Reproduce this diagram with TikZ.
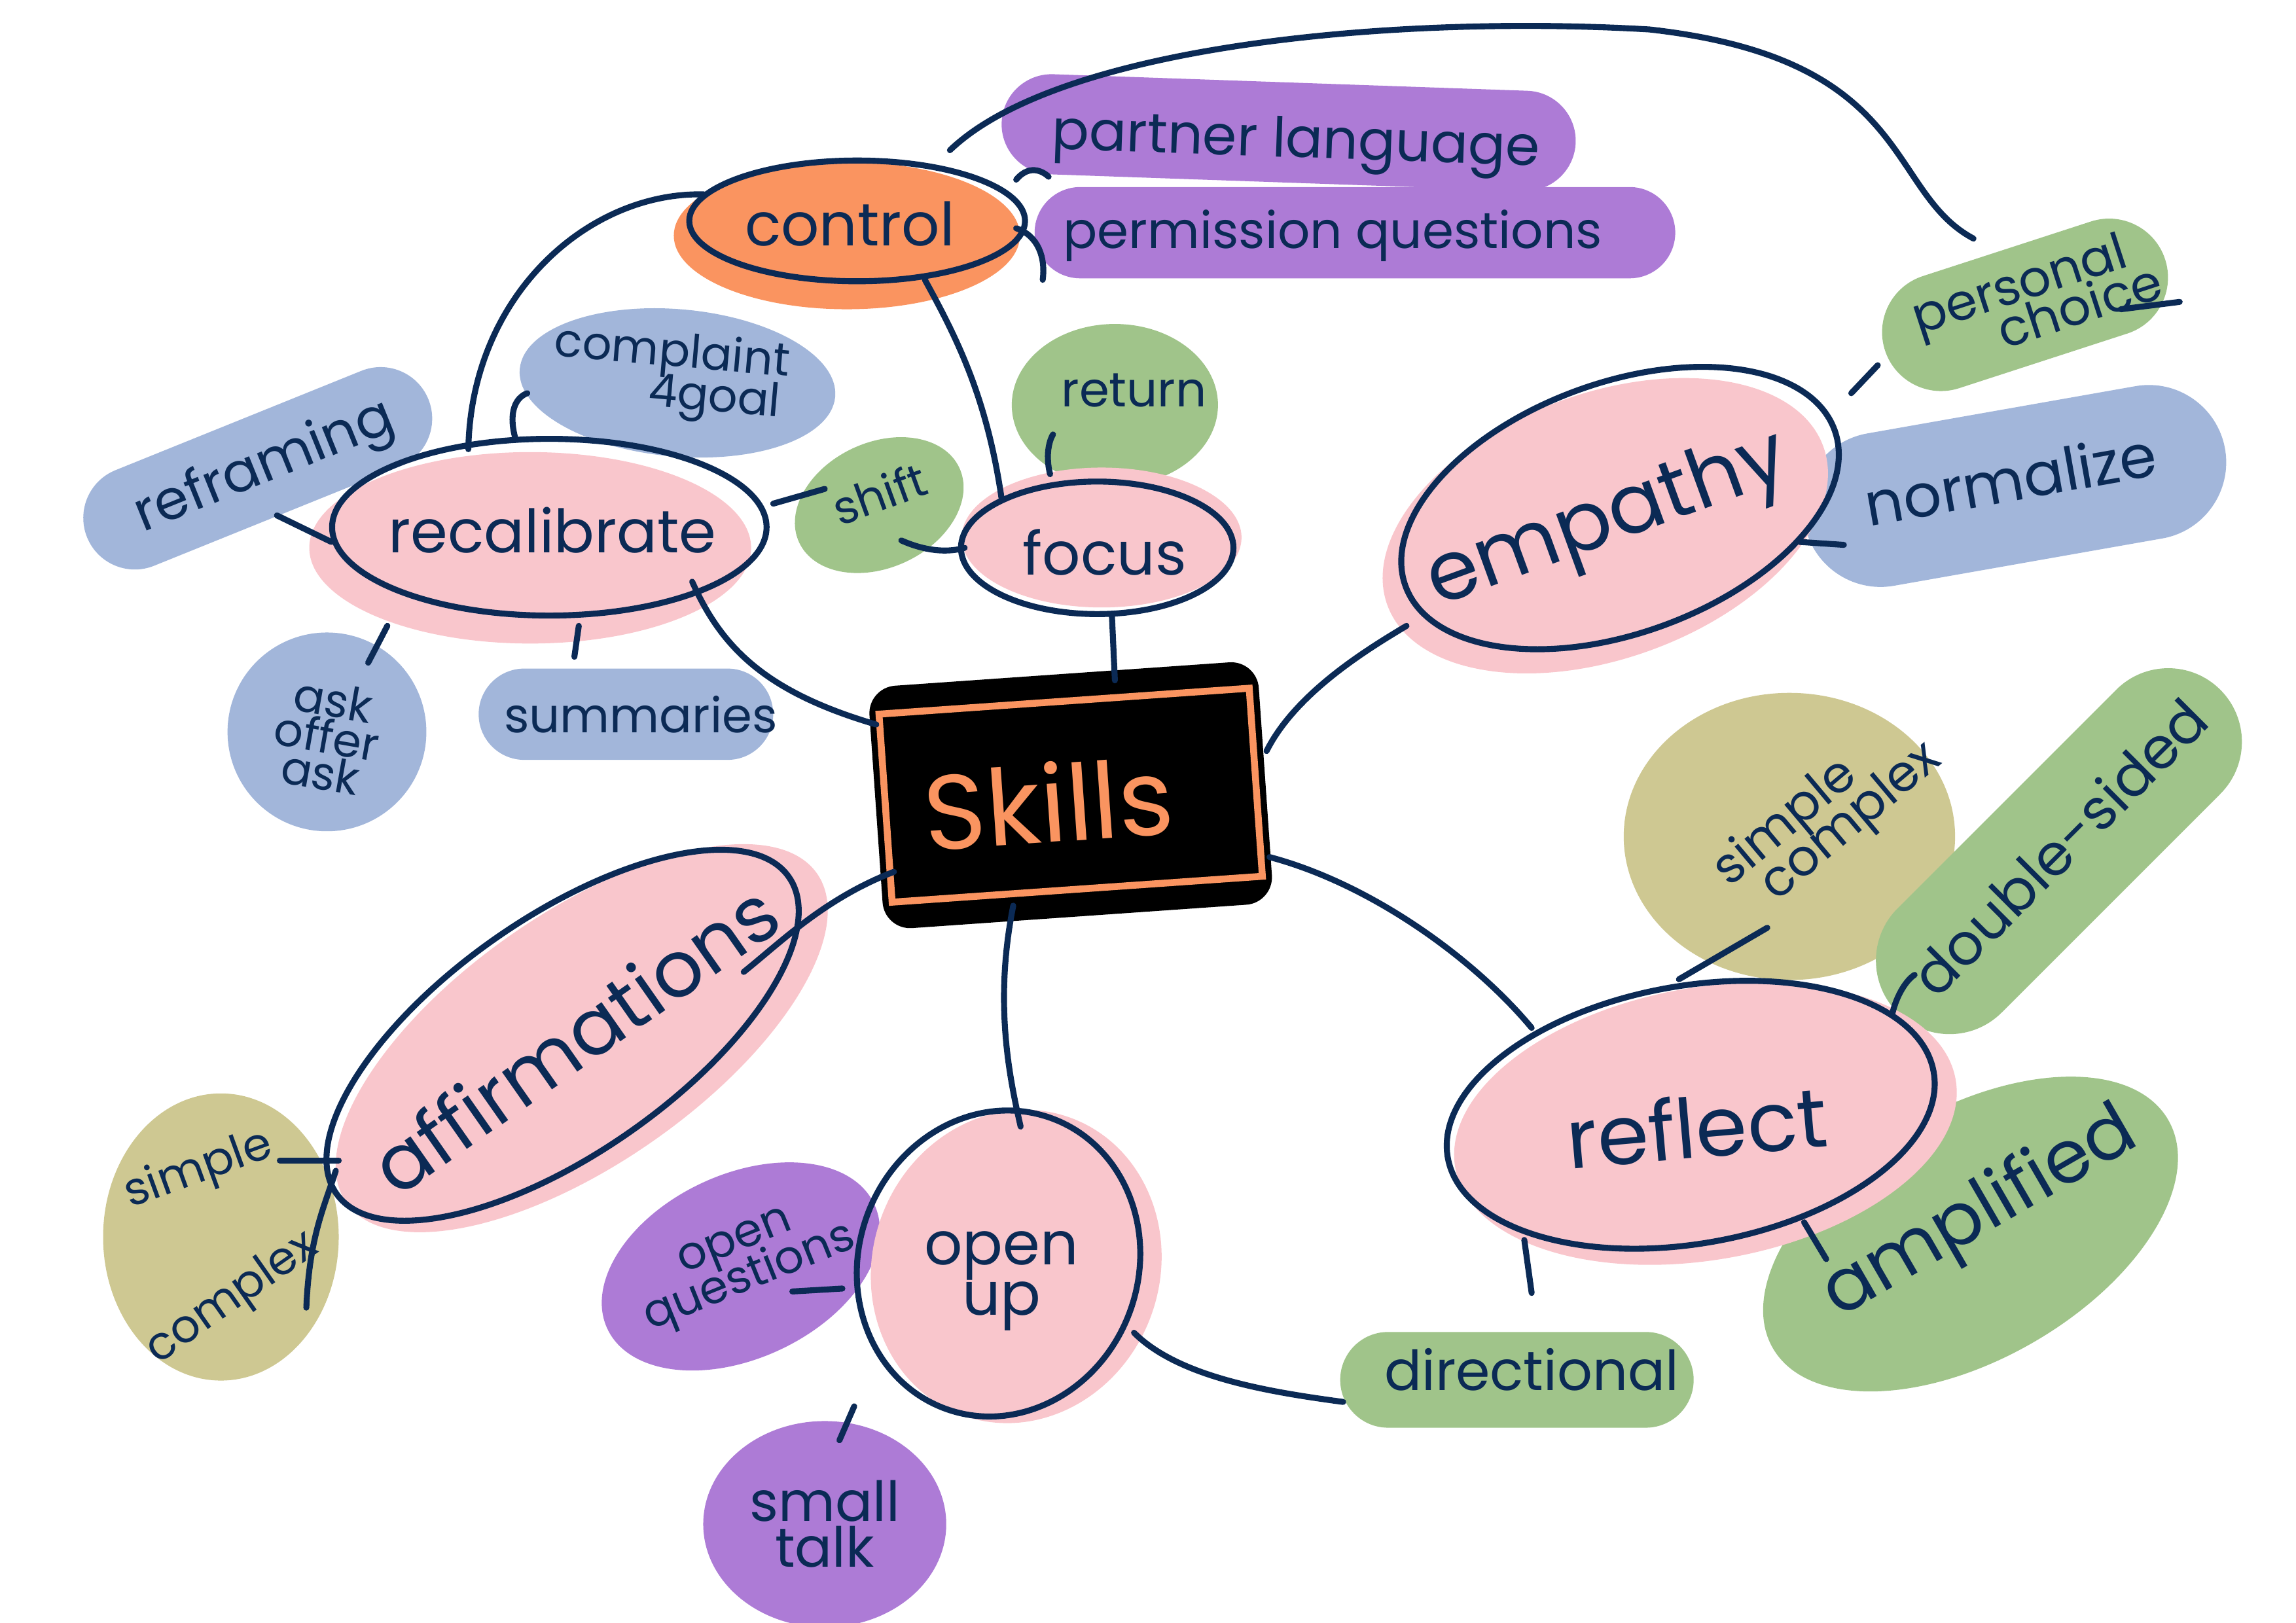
\documentclass[tikz,border=0pt]{standalone}
\usepackage{fontspec}
\setmainfont{Poppins}
\usetikzlibrary{shapes.geometric,shapes.misc}
\definecolor{navy}{HTML}{0B2A55}
\definecolor{pinkf}{HTML}{F9C6CC}
\definecolor{orangef}{HTML}{FA9460}
\definecolor{purplef}{HTML}{AD7BD6}
\definecolor{bluef}{HTML}{A2B6DA}
\definecolor{greenf}{HTML}{A0C48A}
\definecolor{olivef}{HTML}{CEC892}
\newdimen\U \U=0.0225cm
\tikzset{
  lbl/.style={text=navy,font=\fontsize{#1}{#1}\selectfont,align=center},
  lbl/.default=24,
  blob/.style={fill=#1,draw=none,ellipse,inner sep=0pt},
  pill/.style={fill=#1,draw=none,rounded rectangle,inner sep=0pt},
  ring/.style={draw=navy,line width=2.6pt,ellipse,inner sep=0pt},
  link/.style={draw=navy,line width=2.6pt,line cap=round},
}
\begin{document}
\begin{tikzpicture}[x=0.0225cm,y=-0.0225cm]
\useasboundingbox (0,0) rectangle (1559,1102);
% ---- blobs (fills) ----
\node[pill=purplef,minimum width=390\U,minimum height=68\U,rotate=-2] (partner) at (875,90) {};
\node[pill=purplef,minimum width=435\U,minimum height=62\U] (perm) at (920,158) {};
\node[blob=orangef,minimum width=235\U,minimum height=100\U] (ctrlf) at (575,160) {};
\node[blob=bluef,minimum width=215\U,minimum height=100\U,rotate=-5] (compl) at (460,260) {};
\node[pill=bluef,minimum width=250\U,minimum height=70\U,rotate=22] (refr) at (175,318) {};
\node[blob=bluef,minimum width=135\U,minimum height=135\U] (ask) at (222,497) {};
\node[pill=bluef,minimum width=200\U,minimum height=62\U] (summ) at (425,485) {};
\node[blob=greenf,minimum width=120\U,minimum height=85\U,rotate=25] (shift) at (597,343) {};
\node[blob=greenf,minimum width=140\U,minimum height=110\U] (ret) at (757,275) {};
\node[pill=greenf,minimum width=200\U,minimum height=80\U,rotate=18] (pers) at (1375,207) {};
\node[pill=bluef,minimum width=290\U,minimum height=105\U,rotate=10] (norm) at (1368,330) {};
\node[blob=olivef,minimum width=160\U,minimum height=195\U] (scl) at (150,840) {};
\node[blob=purplef,minimum width=200\U,minimum height=125\U,rotate=25] (oq) at (503,860) {};
\node[blob=purplef,minimum width=165\U,minimum height=140\U] (small) at (560,1035) {};
\node[pill=greenf,minimum width=240\U,minimum height=65\U] (dir) at (1030,937) {};
\node[blob=olivef,minimum width=225\U,minimum height=195\U] (scr) at (1215,568) {};
\node[pill=greenf,minimum width=310\U,minimum height=100\U,rotate=45] (dbl) at (1398,578) {};
\node[blob=greenf,minimum width=310\U,minimum height=170\U,rotate=30] (ampl) at (1338,838) {};
% pink shadows
\node[blob=pinkf,minimum width=300\U,minimum height=130\U] at (360,372) {};
\node[blob=pinkf,minimum width=190\U,minimum height=95\U] at (748,365) {};
\node[blob=pinkf,minimum width=315\U,minimum height=180\U,rotate=20] at (1090,357) {};
\node[blob=pinkf,minimum width=390\U,minimum height=170\U,rotate=35] at (395,705) {};
\node[blob=pinkf,minimum width=215\U,minimum height=195\U,rotate=70] at (690,860) {};
\node[blob=pinkf,minimum width=345\U,minimum height=185\U,rotate=10] at (1158,763) {};
% rings
\node[ring,minimum width=228\U,minimum height=82\U] (ctrl) at (582,150) {};
\node[ring,minimum width=295\U,minimum height=120\U] (rec) at (373,358) {};
\node[ring,minimum width=185\U,minimum height=90\U] (foc) at (745,372) {};
\node[ring,minimum width=310\U,minimum height=170\U,rotate=20] (emp) at (1100,345) {};
\node[ring,minimum width=375\U,minimum height=160\U,rotate=35] (aff) at (382,703) {};
\node[ring,minimum width=210\U,minimum height=190\U,rotate=70] (open) at (678,858) {};
\node[ring,minimum width=335\U,minimum height=175\U,rotate=10] (refl) at (1148,757) {};
% skills
\node[fill=black,rounded corners=12pt,minimum width=265\U,minimum height=165\U,rotate=4] (sk) at (727,540) {};
\node[draw=orangef,line width=3pt,minimum width=252\U,minimum height=128\U,rotate=4] (skin) at (727,540) {};
\node[text=orangef,font=\fontsize{46}{46}\selectfont,rotate=4] at (712,545) {Skills};
% ---- connectors ----
\draw[link] (595,492) .. controls (520,470) and (490,440) .. (470,395);
\draw[link] (757,462) -- (755,418);
\draw[link] (860,510) .. controls (880,470) and (930,440) .. (955,425);
\draw[link] (607,592) .. controls (560,610) and (530,640) .. (505,660);
\draw[link] (688,615) .. controls (675,680) and (685,730) .. (693,765);
\draw[link] (862,582) .. controls (930,600) and (1000,650) .. (1040,698);
\draw[link] (318,305) .. controls (320,200) and (400,130) .. (478,132);
\draw[link] (628,190) .. controls (650,230) and (670,270) .. (680,338);
\draw[link] (690,122) .. controls (700,110) and (710,118) .. (712,120);
\draw[link] (690,155) .. controls (705,160) and (710,175) .. (708,190);
\draw[link] (645,102) .. controls (720,30) and (950,10) .. (1120,20) .. controls (1300,40) and (1280,130) .. (1340,162);
\draw[link] (188,350) -- (225,368);
\draw[link] (263,425) -- (250,450);
\draw[link] (393,425) -- (390,446);
\draw[link] (350,298) .. controls (345,280) and (350,270) .. (358,267);
\draw[link] (525,342) -- (560,332);
\draw[link] (612,367) .. controls (630,375) and (645,375) .. (655,372);
\draw[link] (713,322) .. controls (710,310) and (712,300) .. (715,295);
\draw[link] (1257,267) -- (1275,248);
\draw[link] (1222,368) -- (1252,370);
\draw[link] (190,788) -- (230,788);
\draw[link] (228,795) .. controls (220,820) and (210,840) .. (208,888);
\draw[link] (538,877) -- (572,875);
\draw[link] (580,955) -- (570,978);
\draw[link] (770,905) .. controls (800,935) and (860,945) .. (912,952);
\draw[link] (1035,842) -- (1040,878);
\draw[link] (1140,665) -- (1200,630);
\draw[link] (1285,688) .. controls (1288,675) and (1295,665) .. (1300,662);
\draw[link] (1225,830) -- (1240,855);
\draw[link] (1480,205) -- (1440,210);
% ---- labels ----
\node[lbl=26] at (577,152) {control};
\node[lbl=24,rotate=-2] at (880,98) {partner language};
\node[lbl=22] at (905,160) {permission questions};
\node[lbl=26] at (375,360) {recalibrate};
\node[lbl=20,rotate=-5] at (455,255) {complaint\\[-2pt]\hspace*{2em}4goal};
\node[lbl=24,rotate=22] at (180,318) {reframing};
\node[lbl=20,rotate=-10] at (222,500) {ask\\[-4pt]offer\\[-4pt]ask};
\node[lbl=21] at (435,485) {summaries};
\node[lbl=20,rotate=20] at (597,335) {shift};
\node[lbl=21] at (770,265) {return};
\node[lbl=26] at (750,375) {focus};
\node[lbl=36,rotate=20] at (1092,355) {empathy};
\node[lbl=22,rotate=18] at (1375,205) {personal\\[-6pt]\hspace*{2em}choice};
\node[lbl=26,rotate=10] at (1365,325) {normalize};
\node[lbl=34,rotate=35] at (390,705) {affirmations};
\node[lbl=20,rotate=20] at (135,795) {simple};
\node[lbl=20,rotate=35] at (158,882) {complex};
\node[lbl=20,rotate=22] at (505,858) {open\\[-4pt]questions};
\node[lbl=26] at (680,870) {open\\[-4pt]up};
\node[lbl=24] at (560,1035) {small\\[-4pt]talk};
\node[lbl=24] at (1040,930) {directional};
\node[lbl=36,rotate=5] at (1152,765) {reflect};
\node[lbl=22,rotate=40] at (1222,570) {simple\\[-4pt]\hspace*{2em}complex};
\node[lbl=25,rotate=45] at (1398,575) {double-sided};
\node[lbl=32,rotate=30] at (1345,825) {amplified};
\end{tikzpicture}
\end{document}
